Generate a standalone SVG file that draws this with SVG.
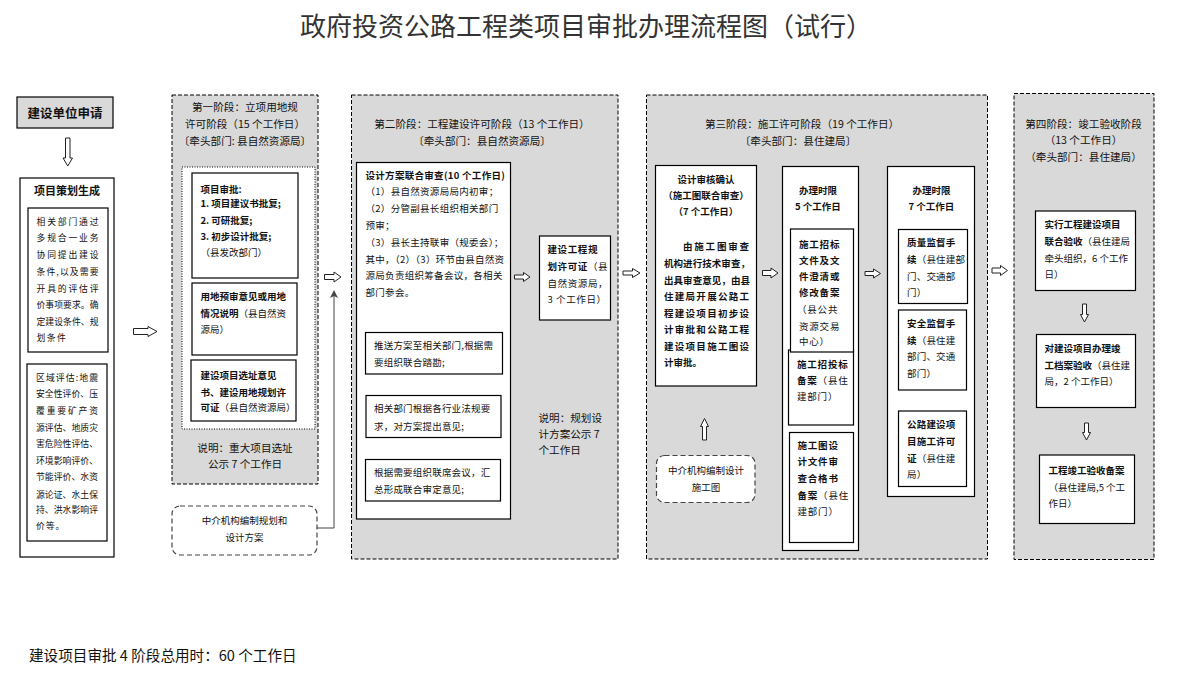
<svg xmlns="http://www.w3.org/2000/svg" width="1182" height="698" viewBox="0 0 1182 698">
<style>
text{font-family:"Noto Sans CJK SC","Noto Sans",sans-serif;fill:#111;dominant-baseline:central}
.panel{fill:#d9d9d9;stroke:#000;stroke-width:1;stroke-dasharray:4 2}
.box{fill:#fff;stroke:#000;stroke-width:1.2}
.rbox{fill:#fff;stroke:#444;stroke-width:1.2;stroke-dasharray:5 3}
.dot{fill:#fff;stroke:#000;stroke-width:1;stroke-dasharray:1 1.5}
.pt{font-size:10.6px}
.s{font-size:9.5px}
.xs{font-size:8.8px}
.b{font-weight:bold}
.n{font-weight:normal}
.c{text-anchor:middle}
.harrow{fill:#fff;stroke:#222;stroke-width:1}
.conn{fill:none;stroke:#444;stroke-width:1}
</style>
<defs>
<marker id="ah" markerWidth="8" markerHeight="8" refX="4" refY="4" orient="auto" markerUnits="userSpaceOnUse">
<path d="M0,0 L8,4 L0,8 L2,4 Z" fill="#444"/>
</marker>
</defs>
<rect width="1182" height="698" fill="#fff"/>

<g id="title">
<text x="586" y="24" class="c" style="font-size:26px;fill:#333">政府投资公路工程类项目审批办理流程图（试行）</text>
</g>

<g id="apply">
<rect class="box" x="17" y="97" width="96" height="31" style="fill:#d9d9d9"/>
<text x="65" y="112.5" class="c b" style="font-size:12.5px">建设单位申请</text>
</g>

<g id="plan">
<rect class="box" x="20" y="178" width="94" height="379"/>
<text x="67" y="190" class="c b" style="font-size:11px">项目策划生成</text>
<rect class="box" x="28" y="208" width="80" height="144"/>
<g class="xs">
<text x="36.5" y="221" textLength="62" lengthAdjust="spacing">相关部门通过</text>
<text x="36.5" y="237.5" textLength="62" lengthAdjust="spacing">多规合一业务</text>
<text x="36.5" y="254.5" textLength="62" lengthAdjust="spacing">协同提出建设</text>
<text x="36.5" y="271" textLength="62" lengthAdjust="spacing">条件,以及需要</text>
<text x="36.5" y="288" textLength="62" lengthAdjust="spacing">开具的评估评</text>
<text x="36.5" y="304.5" textLength="62" lengthAdjust="spacing">价事项要求。确</text>
<text x="36.5" y="321" textLength="62" lengthAdjust="spacing">定建设条件、规</text>
<text x="36.5" y="337" style="letter-spacing:1.5px">划条件</text>
</g>
<rect class="box" x="27" y="364" width="80" height="177"/>
<g class="xs">
<text x="36" y="377" textLength="62" lengthAdjust="spacing">区域评估:地震</text>
<text x="36" y="393.5" textLength="62" lengthAdjust="spacing">安全性评价、压</text>
<text x="36" y="410.5" textLength="62" lengthAdjust="spacing">覆重要矿产资</text>
<text x="36" y="427" textLength="62" lengthAdjust="spacing">源评估、地质灾</text>
<text x="36" y="443.5" textLength="62" lengthAdjust="spacing">害危险性评估、</text>
<text x="36" y="460" textLength="62" lengthAdjust="spacing">环境影响评价、</text>
<text x="36" y="476.5" textLength="62" lengthAdjust="spacing">节能评价、水资</text>
<text x="36" y="494" textLength="62" lengthAdjust="spacing">源论证、水土保</text>
<text x="36" y="509.5" textLength="62" lengthAdjust="spacing">持、洪水影响评</text>
<text x="36" y="525.5" style="letter-spacing:1px">价等。</text>
</g>
</g>

<g id="stage1">
<rect class="panel" x="172" y="95" width="146" height="389"/>
<text x="245" y="106" class="c pt">第一阶段：立项用地规</text>
<text x="245" y="123" class="c pt">许可阶段（15 个工作日）</text>
<text x="245" y="140" class="c pt">〔牵头部门: 县自然资源局〕</text>
<rect class="dot" x="182" y="167" width="133" height="262"/>
<rect class="box" x="192" y="173" width="106" height="105"/>
<g class="s b">
<text x="200.5" y="189">项目审批:</text>
<text x="200.5" y="203">1. 项目建议书批复;</text>
<text x="200.5" y="219.5">2. 可研批复;</text>
<text x="200.5" y="236">3. 初步设计批复;</text>
<text x="200.5" y="252" class="n">（县发改部门）</text>
</g>
<rect class="box" x="192" y="283" width="105" height="72"/>
<g class="s">
<text x="200.5" y="296" class="b">用地预审意见或用地</text>
<text x="200.5" y="313"><tspan class="b">情况说明</tspan>（县自然资</text>
<text x="200.5" y="329">源局）</text>
</g>
<rect class="box" x="191" y="360" width="105" height="61"/>
<g class="s">
<text x="200.5" y="375" class="b">建设项目选址意见</text>
<text x="200.5" y="392" class="b">书、建设用地规划许</text>
<text x="200.5" y="407"><tspan class="b">可证</tspan>（县自然资源局）</text>
</g>
<text x="245" y="447" class="c pt">说明：重大项目选址</text>
<text x="245" y="463" class="c pt">公示 7 个工作日</text>
</g>

<g id="agency1">
<rect class="rbox" x="172" y="506" width="145" height="49" rx="8"/>
<text x="244.5" y="520" class="c s">中介机构编制规划和</text>
<text x="244.5" y="537" class="c s">设计方案</text>
</g>

<g id="stage2">
<rect class="panel" x="351.5" y="95" width="266.5" height="464"/>
<text x="482" y="123" class="c pt">第二阶段：工程建设许可阶段（13 个工作日）</text>
<text x="482" y="140" class="c pt">〔牵头部门：县自然资源局〕</text>
<rect class="box" x="356.5" y="162.5" width="154" height="356.5"/>
<g class="s" style="letter-spacing:0.3px">
<text x="365.5" y="174.5" class="b">设计方案联合审查(10 个工作日)</text>
<text x="365.5" y="191">（1）县自然资源局局内初审；</text>
<text x="365.5" y="208">（2）分管副县长组织相关部门</text>
<text x="365.5" y="225">预审；</text>
<text x="365.5" y="241.5">（3）县长主持联审（规委会）；</text>
<text x="365.5" y="258.5">其中，（2）（3）环节由县自然资</text>
<text x="365.5" y="275">源局负责组织筹备会议，各相关</text>
<text x="365.5" y="291.5">部门参会。</text>
</g>
<rect class="box" x="365.5" y="332.5" width="137" height="41.5"/>
<text x="374" y="345" class="s" style="letter-spacing:0.2px">推送方案至相关部门,根据需</text>
<text x="374" y="362" class="s" style="letter-spacing:0.2px">要组织联合踏勘;</text>
<rect class="box" x="366" y="395.5" width="135" height="42"/>
<text x="374" y="408" class="s" style="letter-spacing:0.2px">相关部门根据各行业法规要</text>
<text x="374" y="425.5" class="s" style="letter-spacing:0.2px">求，对方案提出意见;</text>
<rect class="box" x="365.5" y="459.5" width="135" height="41.5"/>
<text x="374" y="472" class="s" style="letter-spacing:0.2px">根据需要组织联席会议，汇</text>
<text x="374" y="489" class="s" style="letter-spacing:0.2px">总形成联合审定意见;</text>
<rect class="box" x="539.5" y="236" width="71" height="84"/>
<g class="s" style="letter-spacing:0.6px">
<text x="547.5" y="248.5" class="b">建设工程规</text>
<text x="547.5" y="266"><tspan class="b">划许可证</tspan>（县</text>
<text x="547.5" y="283">自然资源局，</text>
<text x="547.5" y="299">3 个工作日）</text>
</g>
<text x="538.5" y="417" class="pt">说明：规划设</text>
<text x="538.5" y="433.5" class="pt">计方案公示 7</text>
<text x="538.5" y="449.5" class="pt">个工作日</text>
</g>

<g id="stage3">
<rect class="panel" x="646.5" y="95" width="341" height="464"/>
<text x="802" y="123" class="c pt">第三阶段：施工许可阶段（19 个工作日）</text>
<text x="798" y="140" class="c pt">〔牵头部门：县住建局〕</text>
</g>

<g id="design-review">
<rect class="box" x="655.5" y="165.5" width="101" height="220.5"/>
<g class="s b">
<text x="706" y="178.5" class="c">设计审核确认</text>
<text x="706" y="194.5" class="c">（施工图联合审查）</text>
<text x="706" y="211" class="c">（7 个工作日）</text>
<text x="683" y="246" textLength="66" lengthAdjust="spacing">由施工图审查</text>
<text x="664" y="262.5" textLength="86" lengthAdjust="spacing">机构进行技术审查，</text>
<text x="664" y="279.5" textLength="86" lengthAdjust="spacing">出具审查意见，由县</text>
<text x="664" y="296" textLength="85" lengthAdjust="spacing">住建局开展公路工</text>
<text x="664" y="312.5" textLength="85" lengthAdjust="spacing">程建设项目初步设</text>
<text x="664" y="329" textLength="85" lengthAdjust="spacing">计审批和公路工程</text>
<text x="664" y="345.5" textLength="85" lengthAdjust="spacing">建设项目施工图设</text>
<text x="664" y="362">计审批。</text>
</g>
</g>

<g id="agency2">
<rect class="rbox" x="656.5" y="455.5" width="98.5" height="47" rx="8"/>
<text x="706" y="470" class="c s">中介机构编制设计</text>
<text x="706" y="487" class="c s">施工图</text>
</g>

<g id="limit5">
<rect class="box" x="782.5" y="166.5" width="76" height="384"/>
<text x="818" y="190" class="c s b">办理时限</text>
<text x="818" y="206" class="c s b">5 个工作日</text>
<rect class="box" x="788.5" y="350" width="65" height="75"/>
<rect class="box" x="790.5" y="229" width="63" height="123"/>
<g class="s" style="letter-spacing:0.8px">
<text x="799" y="243.5" class="b">施工招标</text>
<text x="799" y="259.5" class="b">文件及文</text>
<text x="799" y="275.5" class="b">件澄清或</text>
<text x="799" y="292" class="b">修改备案</text>
<text x="797" y="309">（县公共</text>
<text x="799" y="325.5">资源交易</text>
<text x="799" y="341">中心）</text>
<text x="797" y="363.5" class="b">施工招投标</text>
<text x="797" y="379.5"><tspan class="b">备案</tspan>（县住</text>
<text x="797" y="396">建部门）</text>
</g>
<rect class="box" x="789.5" y="432.5" width="64" height="110"/>
<g class="s" style="letter-spacing:0.8px">
<text x="797.5" y="444.5" class="b">施工图设</text>
<text x="797.5" y="461" class="b">计文件审</text>
<text x="797.5" y="478" class="b">查合格书</text>
<text x="797.5" y="495"><tspan class="b">备案</tspan>（县住</text>
<text x="797.5" y="511">建部门）</text>
</g>
</g>

<g id="limit7">
<rect class="box" x="887.5" y="166.5" width="87" height="330"/>
<text x="931.5" y="190" class="c s b">办理时限</text>
<text x="931.5" y="206" class="c s b">7 个工作日</text>
<rect class="box" x="898.5" y="229.5" width="69" height="74"/>
<g class="s" style="letter-spacing:0.2px">
<text x="907" y="242" class="b">质量监督手</text>
<text x="907" y="258.5"><tspan class="b">续</tspan>（县住建部</text>
<text x="907" y="275.5">门、交通部</text>
<text x="907" y="292">门）</text>
</g>
<rect class="box" x="898.5" y="310" width="68" height="80"/>
<g class="s" style="letter-spacing:0.2px">
<text x="907" y="322.5" class="b">安全监督手</text>
<text x="907" y="339.5"><tspan class="b">续</tspan>（县住建</text>
<text x="907" y="356">部门、交通</text>
<text x="907" y="373">部门）</text>
</g>
<rect class="box" x="898.5" y="411" width="68" height="75.5"/>
<g class="s" style="letter-spacing:0.2px">
<text x="907" y="423.5" class="b">公路建设项</text>
<text x="907" y="440.5" class="b">目施工许可</text>
<text x="907" y="457.5"><tspan class="b">证</tspan>（县住建</text>
<text x="907" y="473.5">局）</text>
</g>
</g>

<g id="stage4">
<rect class="panel" x="1014" y="93.5" width="140" height="466"/>
<text x="1083.5" y="123.5" class="c pt">第四阶段：竣工验收阶段</text>
<text x="1083.5" y="139.5" class="c pt">（13 个工作日）</text>
<text x="1083.5" y="156" class="c pt">（牵头部门：县住建局）</text>
</g>

<g id="joint-acceptance">
<rect class="box" x="1035.5" y="211" width="100" height="79.5"/>
<g class="s">
<text x="1044.5" y="224" class="b">实行工程建设项目</text>
<text x="1044.5" y="241"><tspan class="b">联合验收</tspan>（县住建局</text>
<text x="1044.5" y="257.5">牵头组织，6 个工作</text>
<text x="1044.5" y="273.5">日）</text>
</g>
</g>

<g id="archive-acceptance">
<rect class="box" x="1036.5" y="334.5" width="99" height="73"/>
<g class="s">
<text x="1044.5" y="348" class="b">对建设项目办理竣</text>
<text x="1044.5" y="364.5"><tspan class="b">工档案验收</tspan>（县住建</text>
<text x="1044.5" y="381">局，2 个工作日）</text>
</g>
</g>

<g id="completion-filing">
<rect class="box" x="1039.5" y="455" width="95" height="68.5"/>
<g class="s">
<text x="1048.5" y="470" class="b">工程竣工验收备案</text>
<text x="1048.5" y="487">（县住建局,5 个工</text>
<text x="1048.5" y="502.5">作日）</text>
</g>
</g>

<g id="footer">
<text x="29" y="654.5" style="font-size:14.6px">建设项目审批 4 阶段总用时：60 个工作日</text>
</g>

<g id="connectors">
<path class="harrow" d="M65.5,138 H70 V158 H72.5 L67.75,166 L63,158 H65.5 Z"/>
<path class="harrow" d="M133.5,328.5 H148 V326.5 L157,331.5 L148,336.5 V334.5 H133.5 Z"/>
<path class="harrow" d="M324.5,274.5 H334 V272 L341,277 L334,282 V279.5 H324.5 Z"/>
<path class="harrow" d="M514.5,275 H523.5 V272.5 L530,277 L523.5,281.5 V279 H514.5 Z"/>
<path class="harrow" d="M623,271 H632.5 V268.5 L640,273 L632.5,277.5 V275 H623 Z"/>
<path class="harrow" d="M762.5,270.5 H771 V268 L778,273 L771,278 V275.5 H762.5 Z"/>
<path class="harrow" d="M865,271.5 H873.5 V269 L880.5,273.5 L873.5,278 V275.5 H865 Z"/>
<path class="harrow" d="M992,268 H1000.5 V265.5 L1007.5,270.5 L1000.5,275.5 V273 H992 Z"/>
<path class="harrow" d="M702.5,440 V426.5 H700.5 L704.5,418.5 L708.5,426.5 H706.5 V440 Z"/>
<path class="harrow" d="M1082.5,304 V314.5 H1080.5 L1084.5,322 L1088.5,314.5 H1086.5 V304 Z"/>
<path class="harrow" d="M1084.5,423 V432.5 H1082.5 L1086.5,440 L1090.5,432.5 H1088.5 V423 Z"/>
<path class="conn" d="M317,528 H334 V294" marker-end="url(#ah)"/>
</g>
</svg>
